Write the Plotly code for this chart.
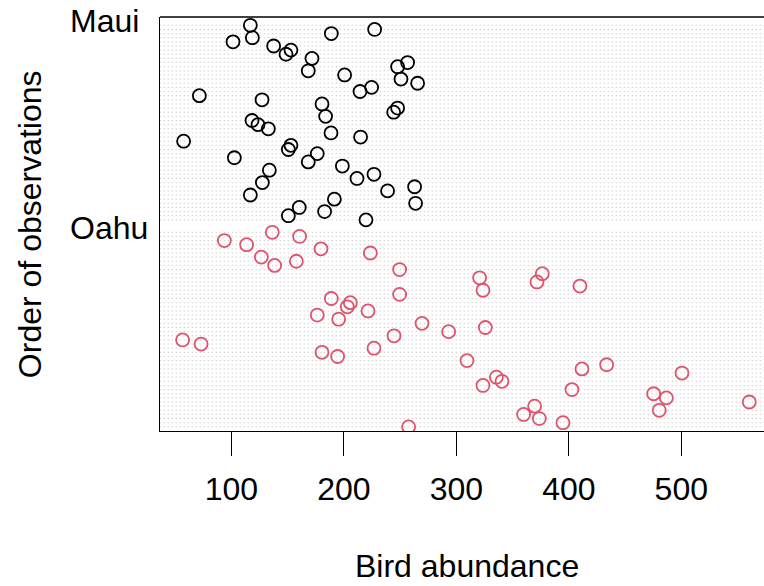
import plotly.graph_objects as go

# Bird abundance per year (order of observations)
maui = [219.7, 150.7, 182.9, 160.4, 263.8, 191.6, 116.9, 238.9, 262.9, 127.6,
        211.7, 226.8, 133.8, 198.7, 168.4, 102.7, 176.4, 150.7, 153.0, 57.6,
        214.9, 188.6, 132.9, 123.7, 118.4, 183.8, 244.3, 247.8, 180.6, 127.3,
        71.6, 214.4, 224.7, 265.6, 250.8, 200.7, 168.4, 247.8, 256.7, 171.7,
        148.6, 153.0, 137.6, 101.5, 118.7, 188.9, 227.4, 116.9]
oahu = [257.6, 394.8, 373.8, 359.8, 480.4, 369.6, 560.4, 486.7, 475.4, 402.8,
        323.7, 340.6, 335.6, 500.6, 411.7, 433.6, 309.5, 194.5, 180.6, 226.8,
        73.1, 56.7, 244.6, 293.2, 325.8, 269.5, 195.4, 176.4, 221.5, 203.1,
        205.8, 188.9, 249.6, 323.7, 409.9, 371.7, 320.7, 376.4, 249.6, 138.5,
        157.8, 126.7, 223.6, 179.7, 113.6, 93.8, 160.7, 136.4]
groups = ["Maui", "Oahu"]
x_ticks = [100, 200, 300, 400, 500]

# dotchart-style positions: Oahu at the bottom, a gap of 2, then Maui
oahu_y = list(range(1, len(oahu) + 1))
maui_y = [len(oahu) + 2 + i for i in range(1, len(maui) + 1)]
group_pos = [maui_y[-1] + 1, oahu_y[-1] + 1]

FONT = "Liberation Sans, Arial, sans-serif"
FS = 32
x_range = [36.6, 573.5]

fig = go.Figure()

# dotted guide line for each observation
gx, gy = [], []
for yy in oahu_y + maui_y:
    gx += [x_range[0] - 50, x_range[1] + 50, None]
    gy += [yy, yy, None]
fig.add_trace(go.Scatter(x=gx, y=gy, mode="lines", hoverinfo="skip",
                         line=dict(color="#BEBEBE", width=1, dash="1px,3px")))

fig.add_trace(go.Scatter(x=maui, y=maui_y, mode="markers", name="Maui",
                         marker=dict(symbol="circle-open", size=13, color="black",
                                     line=dict(width=1.8, color="black"))))
fig.add_trace(go.Scatter(x=oahu, y=oahu_y, mode="markers", name="Oahu",
                         marker=dict(symbol="circle-open", size=13, color="#DF536B",
                                     line=dict(width=1.8, color="#DF536B"))))

# group labels on the left
for g, p in zip(groups, group_pos):
    fig.add_annotation(x=-0.1523, xref="paper", y=p, yref="y", text=g, showarrow=False,
                       xanchor="left", yanchor="middle", font=dict(size=FS, color="black"))

# axis titles (R centres the x title on the full plot region, which runs past the window)
fig.add_annotation(x=0.5075, xref="paper", y=-0.326, yref="paper", text="Bird abundance",
                   showarrow=False, xanchor="center", yanchor="middle",
                   font=dict(size=FS, color="black"))
fig.add_annotation(x=-0.215, xref="paper", y=0.5, yref="paper", text="Order of observations",
                   showarrow=False, textangle=-90, xanchor="center", yanchor="middle",
                   font=dict(size=FS, color="black"))

# top border of the box
fig.add_shape(type="line", xref="paper", yref="paper", x0=0, x1=1, y0=1, y1=1,
              line=dict(color="black", width=1.3))

fig.update_xaxes(range=x_range, tickvals=x_ticks, ticks="outside", ticklen=24,
                 tickwidth=1.3, tickcolor="black", showline=True, linecolor="black",
                 linewidth=1.3, showgrid=False, zeroline=False, ticklabelstandoff=5,
                 tickfont=dict(size=FS, color="black"))
fig.update_yaxes(range=[0, 100], showticklabels=False, ticks="", showline=True,
                 linecolor="black", linewidth=1.3, showgrid=False, zeroline=False)

fig.update_layout(width=764, height=586, showlegend=False,
                  margin=dict(l=160, r=0, t=17, b=155),
                  plot_bgcolor="white", paper_bgcolor="white",
                  font=dict(family=FONT, color="black"))

# drop the default body margin so the figure fills the window exactly
fig.write_html("out.html", config={"displayModeBar": False},
               post_script="document.body.style.margin='0';document.body.style.overflow='hidden';")
